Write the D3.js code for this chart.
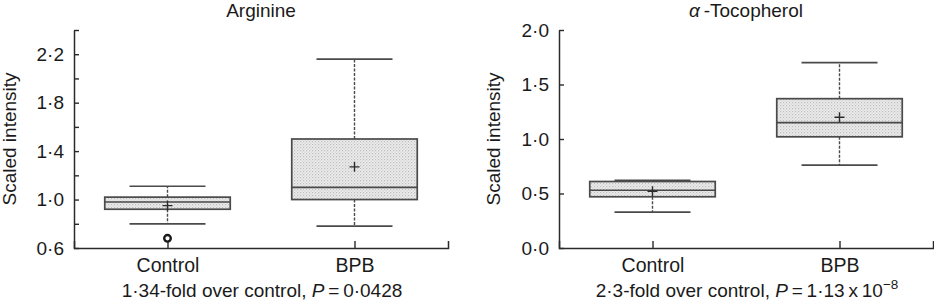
<!DOCTYPE html>
<html>
<head>
<meta charset="utf-8">
<script src="https://cdn.jsdelivr.net/npm/d3@7"></script>
<style>
  html, body { margin: 0; padding: 0; background: #fff; }
  text { font-family: "Liberation Sans", Arial, Helvetica, sans-serif; fill: #1a1a1a; }
</style>
</head>
<body>
<svg id="chart" width="934" height="307"></svg>
<script>
// ---------------- DATA ----------------
const categories = ["Control", "BPB"];

// Arginine (scaled intensity)
const argMin     = [0.80, 0.78];
const argQ1      = [0.92, 1.00];
const argMedian  = [0.98, 1.10];
const argQ3      = [1.02, 1.50];
const argMax     = [1.11, 2.16];
const argMean    = [0.95, 1.27];
const argOutliers = [[0.68], []];
const argTicks   = [0.6, 0.8, 1.0, 1.2, 1.4, 1.6, 1.8, 2.0, 2.2, 2.4];
const argTickLabels = ["0·6", "", "1·0", "", "1·4", "", "1·8", "", "2·2", ""];

// alpha-Tocopherol (scaled intensity)
const tocMin     = [0.33, 0.76];
const tocQ1      = [0.47, 1.02];
const tocMedian  = [0.53, 1.15];
const tocQ3      = [0.61, 1.37];
const tocMax     = [0.62, 1.70];
const tocMean    = [0.52, 1.20];
const tocOutliers = [[], []];
const tocTicks   = [0.0, 0.5, 1.0, 1.5, 2.0];
const tocTickLabels = ["0·0", "0·5", "1·0", "1·5", "2·0"];

// ---------------- DRAW ----------------
const svg = d3.select("#chart");
const defs = svg.append("defs");
const pat = defs.append("pattern")
  .attr("id", "hatch").attr("patternUnits", "userSpaceOnUse")
  .attr("width", 3).attr("height", 3);
pat.append("rect").attr("width", 3).attr("height", 3).attr("fill", "#ececec");
pat.append("rect").attr("x", 0).attr("y", 0).attr("width", 1.2).attr("height", 1.2).attr("fill", "#bdbdbd");
pat.append("rect").attr("x", 1.5).attr("y", 1.5).attr("width", 1.2).attr("height", 1.2).attr("fill", "#cfcfcf");

function panel(opt) {
  const g = svg.append("g");
  const x = d3.scalePoint().domain(categories).range([opt.x0, opt.x1]).padding(0.5);
  const y = d3.scaleLinear().domain(opt.domain).range([opt.yBottom, opt.yTop]);
  const axisColor = "#2a2a2a";

  // y axis
  const ya = g.append("g").attr("transform", `translate(${opt.x0},0)`)
    .call(d3.axisLeft(y).tickValues(opt.ticks)
      .tickFormat((d, i) => opt.tickLabels[i])
      .tickSizeInner(-5).tickSizeOuter(0).tickPadding(10));
  ya.select(".domain").attr("stroke", axisColor).attr("stroke-width", 1.5);
  ya.selectAll(".tick line").attr("stroke", axisColor).attr("stroke-width", 1.4);
  ya.selectAll(".tick text").attr("font-size", 19).attr("fill", "#1a1a1a")
    .attr("font-family", '"Liberation Sans", Arial, sans-serif');

  // x axis
  const xa = g.append("g").attr("transform", `translate(0,${opt.yBottom})`)
    .call(d3.axisBottom(x).tickSizeInner(-7).tickSizeOuter(-7).tickPadding(10.5));
  xa.select(".domain").attr("stroke", axisColor).attr("stroke-width", 1.5);
  xa.selectAll(".tick line").attr("stroke", axisColor).attr("stroke-width", 1.4);
  xa.selectAll(".tick text").attr("font-size", 19.5).attr("fill", "#1a1a1a")
    .attr("font-family", '"Liberation Sans", Arial, sans-serif');

  const boxW = 125.5, capW = 76, plus = 5;
  const boxColor = "#4a4a4a";
  const s = opt.stats;
  categories.forEach((c, i) => {
    const cx = x(c);
    const bg = g.append("g");
    // whiskers (dashed)
    bg.append("line").attr("x1", cx).attr("x2", cx)
      .attr("y1", y(s.q3[i])).attr("y2", y(s.max[i]))
      .attr("stroke", boxColor).attr("stroke-width", 1.4).attr("stroke-dasharray", "3,1.5");
    bg.append("line").attr("x1", cx).attr("x2", cx)
      .attr("y1", y(s.q1[i])).attr("y2", y(s.min[i]))
      .attr("stroke", boxColor).attr("stroke-width", 1.4).attr("stroke-dasharray", "3,1.5");
    // caps
    [s.max[i], s.min[i]].forEach(v => {
      bg.append("line").attr("x1", cx - capW / 2).attr("x2", cx + capW / 2)
        .attr("y1", y(v)).attr("y2", y(v))
        .attr("stroke", boxColor).attr("stroke-width", 1.7);
    });
    // box
    bg.append("rect").attr("x", cx - boxW / 2).attr("width", boxW)
      .attr("y", y(s.q3[i])).attr("height", y(s.q1[i]) - y(s.q3[i]))
      .attr("fill", "url(#hatch)").attr("stroke", boxColor).attr("stroke-width", 1.7);
    // median
    bg.append("line").attr("x1", cx - boxW / 2).attr("x2", cx + boxW / 2)
      .attr("y1", y(s.median[i])).attr("y2", y(s.median[i]))
      .attr("stroke", boxColor).attr("stroke-width", 1.7);
    // mean +
    const my = y(s.mean[i]);
    bg.append("path")
      .attr("d", `M${cx - plus},${my}H${cx + plus}M${cx},${my - plus}V${my + plus}`)
      .attr("stroke", "#2a2a2a").attr("stroke-width", 1.4).attr("fill", "none");
    // outliers
    s.outliers[i].forEach(v => {
      bg.append("circle").attr("cx", cx).attr("cy", y(v)).attr("r", 3.3)
        .attr("fill", "#fff").attr("stroke", "#1a1a1a").attr("stroke-width", 2.4);
    });
  });

  // title
  const cxMid = (opt.x0 + opt.x1) / 2;
  const t = g.append("text").attr("x", cxMid).attr("y", 17)
    .attr("text-anchor", "middle").attr("font-size", 19);
  opt.title(t);

  // y label
  g.append("text")
    .attr("transform", `translate(${opt.yLabelX},${(opt.yTop + opt.yBottom) / 2}) rotate(-90)`)
    .attr("text-anchor", "middle").attr("font-size", 19)
    .text("Scaled intensity");

  // caption
  const cap = g.append("text").attr("x", cxMid + 1).attr("y", 297)
    .attr("text-anchor", "middle").attr("font-size", 19);
  opt.caption(cap);
}

panel({
  x0: 74, x1: 448, yTop: 30, yBottom: 248, domain: [0.6, 2.4],
  ticks: argTicks, tickLabels: argTickLabels, yLabelX: 16,
  stats: { min: argMin, q1: argQ1, median: argMedian, q3: argQ3, max: argMax, mean: argMean, outliers: argOutliers },
  title: t => t.text("Arginine"),
  caption: c => {
    c.append("tspan").text("1·34-fold over control, ");
    c.append("tspan").attr("font-style", "italic").text("P");
    c.append("tspan").text("\u2009=\u20090·0428");
  }
});

panel({
  x0: 559, x1: 933, yTop: 30, yBottom: 248, domain: [0, 2.0],
  ticks: tocTicks, tickLabels: tocTickLabels, yLabelX: 499.5,
  stats: { min: tocMin, q1: tocQ1, median: tocMedian, q3: tocQ3, max: tocMax, mean: tocMean, outliers: tocOutliers },
  title: t => {
    t.append("tspan").attr("font-style", "italic").text("α");
    t.append("tspan").text("\u2009-Tocopherol");
  },
  caption: c => {
    c.append("tspan").text("2·3-fold over control, ");
    c.append("tspan").attr("font-style", "italic").text("P");
    c.append("tspan").text("\u2009=\u20091·13\u2009x\u200910");
    c.append("tspan").attr("font-size", 13.5).attr("dy", -8).text("\u22128");
  }
});
</script>
</body>
</html>
